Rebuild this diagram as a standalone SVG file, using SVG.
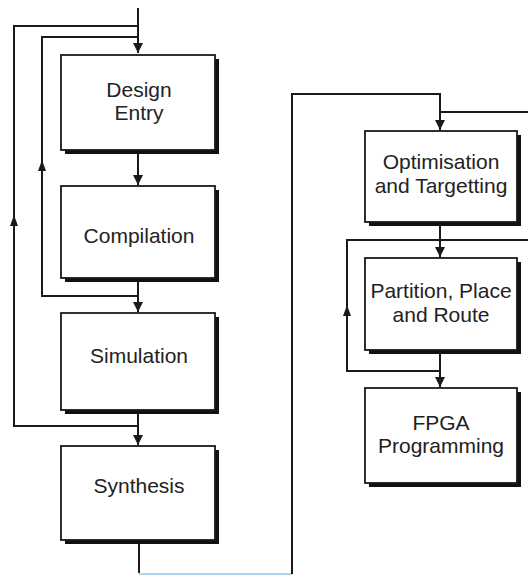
<svg xmlns="http://www.w3.org/2000/svg" width="528" height="575" viewBox="0 0 528 575">
<defs>
<style>
.box{fill:#fff;stroke:#1a1a1a;stroke-width:1.8}
.sh{fill:#111}
.ln{fill:none;stroke:#1a1a1a;stroke-width:2}
.lb{font-family:"Liberation Sans",Arial,sans-serif;font-size:21px;fill:#222;text-anchor:middle}
.ah{fill:#1a1a1a}
</style>
<marker id="arr" viewBox="0 0 10 10" refX="10" refY="5" markerWidth="11" markerHeight="10" markerUnits="userSpaceOnUse" orient="auto">
<path d="M0,0 L10,5 L0,10 z" fill="#1a1a1a"/>
</marker>
</defs>
<rect width="528" height="575" fill="#fff"/>
<g id="connectors">
<path class="ln" d="M138,8 V53" marker-end="url(#arr)"/>
<path class="ln" d="M138,426 H14 V26 H138"/>
<path class="ah" d="M14,215 L10,226 L18,226 z"/>
<path class="ln" d="M138,296 H42 V37 H138"/>
<path class="ah" d="M42,160 L38,171 L46,171 z"/>
<path class="ln" d="M138,154 V185" marker-end="url(#arr)"/>
<path class="ln" d="M138,282 V312" marker-end="url(#arr)"/>
<path class="ln" d="M138,414 V445" marker-end="url(#arr)"/>
<path class="ln" d="M139,544 V573"/>
<path fill="none" stroke="#a9d6ee" stroke-width="2" d="M139,574 H292"/>
<path class="ln" d="M292,574 V94 H440 V130" marker-end="url(#arr)"/>
<path class="ln" d="M440,112 H528"/>
<path class="ln" d="M440,226 V257" marker-end="url(#arr)"/>
<path class="ln" d="M528,240 H347 V371 H440"/>
<path class="ah" d="M347,305 L343,316 L351,316 z"/>
<path class="ln" d="M440,354 V387" marker-end="url(#arr)"/>
</g>
<g id="design-entry">
<rect class="sh" x="65" y="59" width="154" height="95"/>
<rect class="box" x="61" y="55" width="154" height="95"/>
<text class="lb" x="139" y="97">Design</text>
<text class="lb" x="139" y="120">Entry</text>
</g>
<g id="compilation">
<rect class="sh" x="65" y="190" width="154" height="92"/>
<rect class="box" x="61" y="186" width="154" height="92"/>
<text class="lb" x="139" y="243">Compilation</text>
</g>
<g id="simulation">
<rect class="sh" x="65" y="317" width="154" height="97"/>
<rect class="box" x="61" y="313" width="154" height="97"/>
<text class="lb" x="139" y="363">Simulation</text>
</g>
<g id="synthesis">
<rect class="sh" x="65" y="450" width="154" height="94"/>
<rect class="box" x="61" y="446" width="154" height="94"/>
<text class="lb" x="139" y="493">Synthesis</text>
</g>
<g id="optimisation">
<rect class="sh" x="369" y="135" width="152" height="91"/>
<rect class="box" x="365" y="131" width="152" height="91"/>
<text class="lb" x="441" y="169">Optimisation</text>
<text class="lb" x="441" y="193">and Targetting</text>
</g>
<g id="partition">
<rect class="sh" x="369" y="262" width="152" height="92"/>
<rect class="box" x="365" y="258" width="152" height="92"/>
<text class="lb" x="441" y="298">Partition, Place</text>
<text class="lb" x="441" y="322">and Route</text>
</g>
<g id="fpga">
<rect class="sh" x="369" y="392" width="152" height="95"/>
<rect class="box" x="365" y="388" width="152" height="95"/>
<text class="lb" x="441" y="430">FPGA</text>
<text class="lb" x="441" y="453">Programming</text>
</g>
</svg>
